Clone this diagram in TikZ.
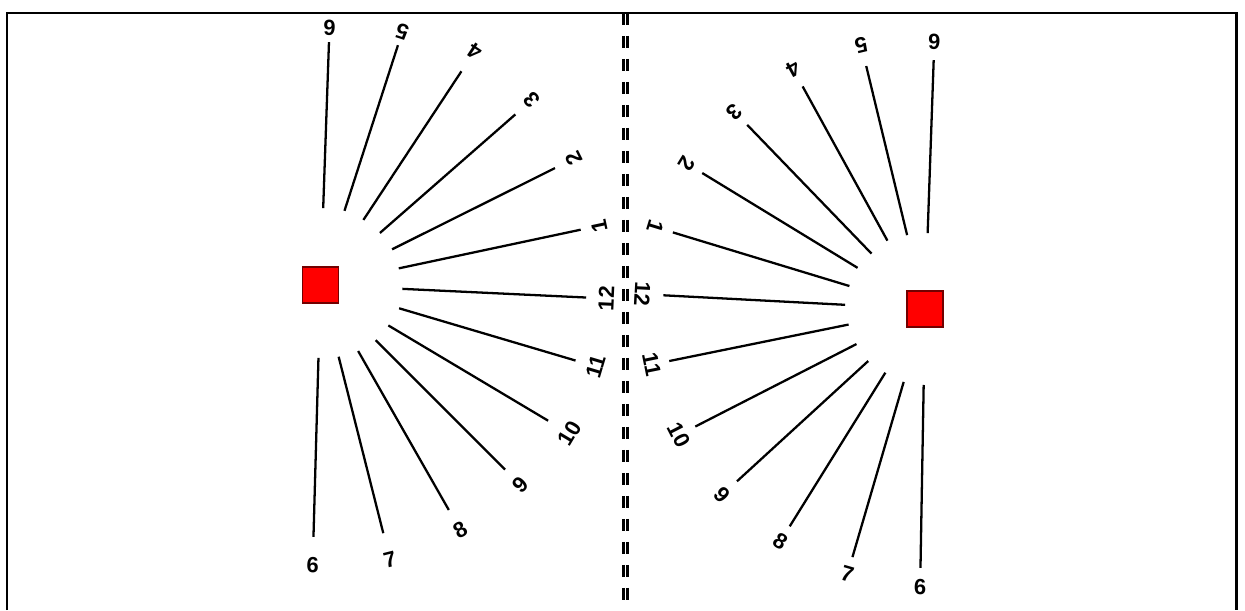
\documentclass[tikz,border=0pt]{standalone}
\usepackage{fontspec}
\setmainfont{Liberation Sans}
\usetikzlibrary{calc}
\tikzset{
  dial/.style={rectangle,draw=red!45!black,line width=0.7pt,fill=red,minimum size=0.72cm,inner sep=0pt},
  hr/.style  ={line width=1.3pt},
  hl/.style  ={font=\fontsize{12.5}{14}\selectfont\bfseries,inner sep=0pt},
  rim/.style ={line width=1.7pt},
  mid/.style ={line width=1.5pt,dash pattern=on 0.24cm off 0.22cm},
}
\begin{document}
\begin{tikzpicture}[x=0.02cm,y=0.02cm]
  \useasboundingbox (0,0) rectangle (1245,610);
  \draw[rim] (7,0) -- (7,597) -- (1236,597) -- (1236,0);
  \draw[mid] (623.3,597) -- (623.3,0);
  \draw[mid] (627.7,597) -- (627.7,0);
  \node[dial] (sqL) at (320.5,325) {};
  \node[dial] (sqR) at (925,301) {};
  \foreach \t/\a/\ri/\ro/\rl [count=\i] in {6/88/77/243/257, 5/72.1/78/252/266, 4/56.6/78/256/280,
      3/41.2/79/259/281, 2/26.5/80/262/283, 1/12/80/266/285, 12/-2.7/82/266/286, 11/-16.5/82/266/287,
      10/-30.8/79/265/290, 9/-45/78/261/283, 8/-60.3/76/259/282, 7/-75.8/74/256/283, 6/-91.6/73/252/280}{
    \draw[hr] ($(sqL.center)+(\a:\ri)$) -- ($(sqL.center)+(\a:\ro)$);
    \node[hl,rotate=\a+90] (hL\i) at ($(sqL.center)+(\a:\rl)$) {\t};
  }
  \foreach \t/\a/\ri/\ro/\rl [count=\i] in {6/88/76/249/267, 5/103.6/76/250/271, 4/118.8/78/254/273.5,
      3/134/77/256/274, 2/148.6/79/261/279, 1/163.1/79/263.5/282, 12/177/80/262/283, 11/191.5/78/261/279,
      10/207.1/77/258/276.5, 9/222.5/77/255/274.6, 8/238.1/75/256/273.7, 7/253.7/76/258.5/276.4, 6/269/76/259/278}{
    \draw[hr] ($(sqR.center)+(\a:\ri)$) -- ($(sqR.center)+(\a:\ro)$);
    \node[hl,rotate=\a+90] (hR\i) at ($(sqR.center)+(\a:\rl)$) {\t};
  }
\end{tikzpicture}
\end{document}
